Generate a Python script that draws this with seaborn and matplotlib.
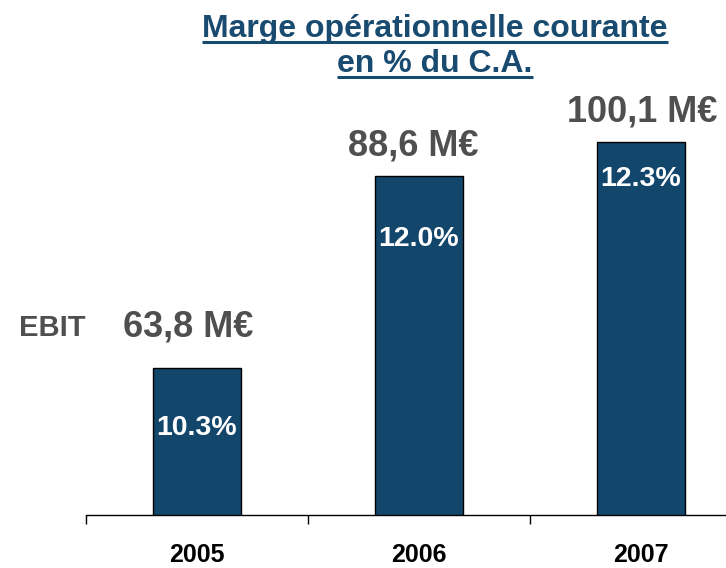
import matplotlib
matplotlib.use("Agg")
import matplotlib.pyplot as plt
import seaborn as sns
import pandas as pd
from matplotlib.lines import Line2D

# chart data
years = ["2005", "2006", "2007"]
margin_pct = [10.3, 12.0, 12.3]
ebit_labels = ["63,8 M€", "88,6 M€", "100,1 M€"]
pct_labels = ["10.3%", "12.0%", "12.3%"]
title_lines = ["Marge opérationnelle courante", "en % du C.A."]

BAR = "#12466b"
GREY = "#4f4f4f"
TITLE = "#184b6f"

sns.set_style("white")
plt.rcParams["font.family"] = ["Liberation Sans", "DejaVu Sans"]

W, H = 726, 568
fig = plt.figure(figsize=(W / 100, H / 100), dpi=100)
fig.patch.set_facecolor("white")
ax = fig.add_axes([86 / W, 53 / H, 640 / W, 515 / H])
ax.patch.set_alpha(0)

df = pd.DataFrame({"year": years, "pct": margin_pct})
sns.barplot(data=df, x="year", y="pct", color=BAR, saturation=1, width=0.4,
            edgecolor="black", linewidth=1, ax=ax)

sns.despine(ax=ax, left=True)
ax.spines["bottom"].set_color("black")
ax.spines["bottom"].set_linewidth(1)
ax.set_yticks([])
ax.set_xlabel("")
ax.set_ylabel("")
ax.set_xticks([-0.5, 0.5, 1.5, 2.5])
ax.set_xticklabels([])
ax.set_xticks([0, 1, 2], minor=True)
ax.set_xticklabels(years, minor=True, fontsize=18, fontweight="bold", color="black")
ax.tick_params(axis="x", which="major", bottom=True, length=6.5, width=1,
               color="black", direction="out")
ax.tick_params(axis="x", which="minor", bottom=True, length=0, pad=20)

# category width ~222 px, bar scale ~113 px per percentage point, base 9%
ax.set_xlim(-0.5, -0.5 + 640 / 222)
ax.set_ylim(9, 9 + 515 / 113)

# labels above/inside bars (pixel offsets)
top_off = [41, 30, 30]
x_off = [-9, -6, 1]
in_off = [60, 63, 37]
for i, (v, lab, p) in enumerate(zip(margin_pct, ebit_labels, pct_labels)):
    ax.annotate(lab, (i, v), xytext=(x_off[i], top_off[i]), textcoords="offset pixels",
                ha="center", va="center", fontsize=26, fontweight="bold", color=GREY)
    ax.annotate(p, (i, v), xytext=(0, -in_off[i]), textcoords="offset pixels",
                ha="center", va="center", fontsize=20.5, fontweight="bold", color="white")

fig.text(52 / W, 1 - 328 / H, "EBIT", ha="center", va="center", fontsize=21,
         fontweight="bold", color=GREY)

# underlined title
t1 = fig.text(435 / W, 1 - 37 / H, title_lines[0], ha="center", va="baseline",
              fontsize=23, fontweight="bold", color=TITLE)
t2 = fig.text(435 / W, 1 - 72 / H, title_lines[1], ha="center", va="baseline",
              fontsize=23, fontweight="bold", color=TITLE)
fig.canvas.draw()
inv = fig.transFigure.inverted()
for t, base in ((t1, 37), (t2, 72)):
    bb = t.get_window_extent()
    (x0, y0), (x1, _) = inv.transform([(bb.x0, H - base - 5), (bb.x1, 0)])
    fig.add_artist(Line2D([x0, x1], [y0, y0], transform=fig.transFigure,
                          color=TITLE, linewidth=2.2, solid_capstyle="butt"))

fig.savefig("out.png", dpi=100)
